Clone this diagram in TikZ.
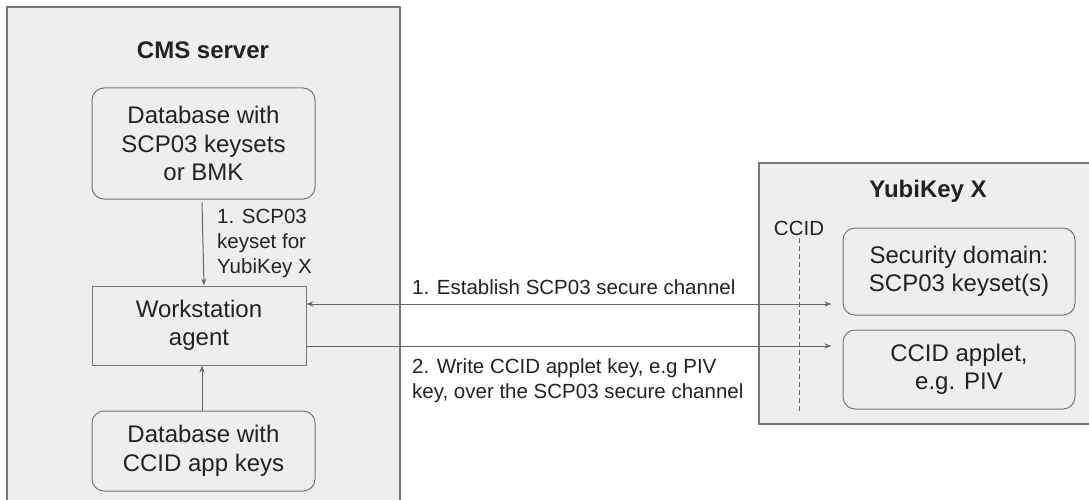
\documentclass[tikz,border=0pt]{standalone}
\usepackage{fontspec}
\setmainfont{Liberation Sans}
\usetikzlibrary{arrows.meta,calc}
\definecolor{panel}{HTML}{EEEEEE}
\definecolor{edge}{HTML}{777777}
\definecolor{ink}{HTML}{222222}
\definecolor{wire}{HTML}{666666}
\begin{document}
\begin{tikzpicture}[x=1pt,y=-1pt,
  outerbox/.style={draw=edge, fill=panel, line width=1.6pt, inner sep=0pt},
  plainbox/.style={draw=edge, fill=panel, line width=1pt, text=ink, align=center, inner sep=0pt, font=\fontsize{24}{28.5}\selectfont},
  roundbox/.style={plainbox, rounded corners=12pt},
  title/.style={text=ink, inner sep=0pt, font=\bfseries\fontsize{24}{28}\selectfont},
  lbl/.style={text=ink, inner sep=0pt, align=left, font=\fontsize{20.5}{25}\selectfont},
  wirearrow/.style={draw=wire, line width=1pt, -{Stealth[length=7pt,width=5pt]}},
  biarrow/.style={draw=wire, line width=1pt, {Stealth[length=7pt,width=5pt]}-{Stealth[length=7pt,width=5pt]}}
]
\useasboundingbox (0,0) rectangle (1089,500);

% containers
\node[outerbox, minimum width=393pt, minimum height=520pt] (cms) at (203.5,267) {};
\node[outerbox, minimum width=340pt, minimum height=261pt] (yk) at (929,293.5) {};

% titles
\node[title] (cmst) at (203,50) {CMS server};
\node[title] (ykt) at (928,191) {YubiKey X};

% CMS nodes
\node[roundbox, minimum width=223pt, minimum height=111pt] (db1) at (203.5,143.5) {Database with\\SCP03 keysets\\or BMK};
\node[plainbox, minimum width=214pt, minimum height=79pt] (ws) at (199,325.5) {Workstation\\agent};
\node[roundbox, minimum width=223pt, minimum height=80pt] (db2) at (203.5,451) {Database with\\CCID app keys};

% YubiKey nodes
\node[roundbox, minimum width=232pt, minimum height=87pt] (sec) at (959,271.5) {Security domain:\\SCP03 keyset(s)};
\node[roundbox, minimum width=232pt, minimum height=79pt] (app) at (959,369.5) {CCID applet,\\e.g. PIV};

% CCID divider
\node[lbl] (ccid) at (799,228) {CCID};
\coordinate (ccidend) at (799,413);
\draw[draw=wire, line width=0.8pt, dash pattern=on 5pt off 3pt] ([yshift=-3pt]ccid.south) -- (ccidend);

% internal arrows
\draw[wirearrow] ([xshift=-1.5pt,yshift=-3pt]db1.south) -- ([xshift=5pt]ws.north);
\draw[wirearrow] ([xshift=-1.5pt]db2.north) -- ([xshift=3pt]ws.south);
\node[lbl, anchor=west] (l1) at (217,243) {1. SCP03\\keyset for\\YubiKey X};

% channel arrows
\draw[biarrow] ([yshift=21.5pt]ws.east) -- ($([yshift=21.5pt]ws.east -| sec.west)+(-11,0)$);
\draw[wirearrow] ([yshift=-20.5pt]ws.east) -- ($([yshift=-20.5pt]ws.east -| app.west)+(-11,0)$);
\node[lbl, anchor=west] (l2) at (412,287) {1. Establish SCP03 secure channel};
\node[lbl, anchor=west] (l3) at (412,381) {2. Write CCID applet key, e.g PIV\\key, over the SCP03 secure channel};
\end{tikzpicture}
\end{document}
